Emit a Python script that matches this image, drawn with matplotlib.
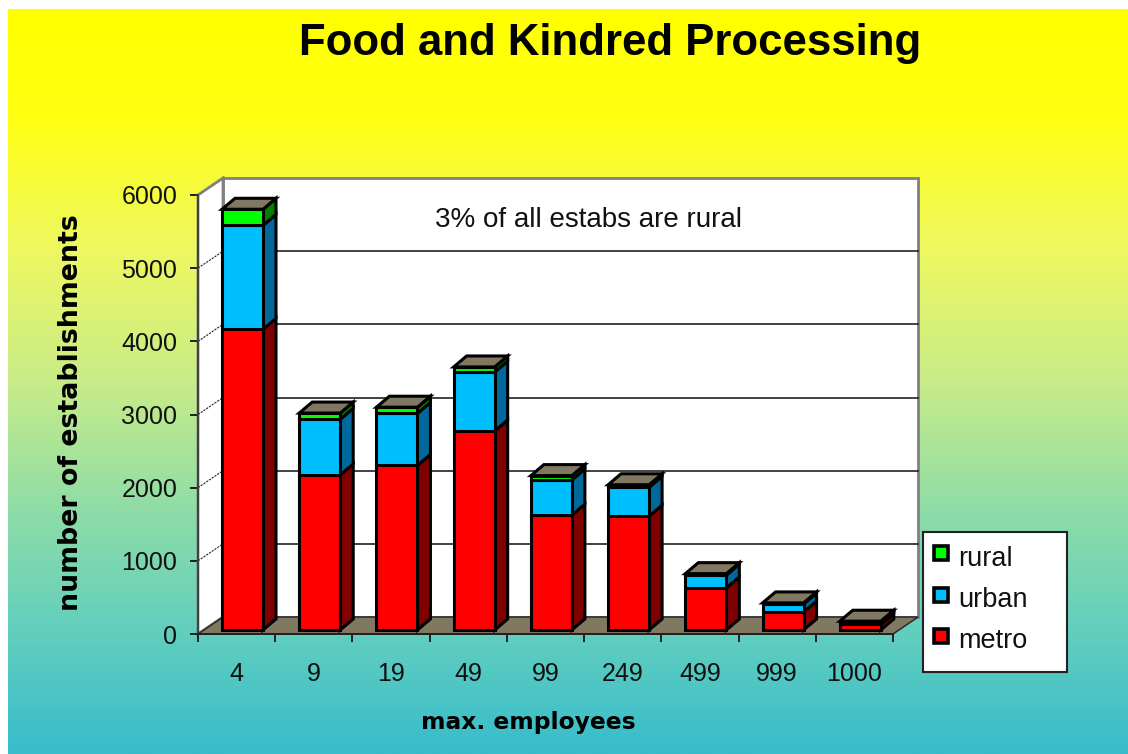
import numpy as np
import matplotlib
matplotlib.use('Agg')
import matplotlib.pyplot as plt
from matplotlib.patches import Rectangle

W, H = 1128, 754

# data
categories = ['4', '9', '19', '49', '99', '249', '499', '999', '1000']
metro = [4110, 2120, 2250, 2720, 1570, 1555, 575, 245, 75]
urban = [1420, 760, 710, 805, 480, 395, 175, 110, 30]
rural = [220, 85, 85, 70, 60, 35, 20, 15, 15]
yticks = [0, 1000, 2000, 3000, 4000, 5000, 6000]

series = [('metro', metro, '#ff0000', '#800000'),
          ('urban', urban, '#00bfff', '#00689a'),
          ('rural', rural, '#00ff00', '#008000')]

# background gradient stops (position from top, colour)
grad_pos = [0.0, 0.14, 0.32, 0.50, 0.68, 0.82, 1.0]
grad_col = ['#ffff00', '#ffff10', '#eef860', '#c8ec88', '#8cdca8', '#66d0bc', '#38bccc']

floor_col = '#807860'
wall_col = '#808080'

# depth of the plot box and of each bar, in axis units
back_dx = 25 / 77.2
back_dy = 17 / 0.07317
bar_left = 0.311
bar_w = 0.531
bar_dx = 0.168
bar_dy = 150
bar_lift = 55

fig = plt.figure(figsize=(W / 100, H / 100), dpi=100, facecolor='white')

# gradient background
bg = fig.add_axes([8 / W, 0, 1 - 8 / W, (H - 9) / H], zorder=0)
rgb = np.array([matplotlib.colors.to_rgb(c) for c in grad_col])
t = np.linspace(0, 1, 745)
img = np.stack([np.interp(t, grad_pos, rgb[:, i]) for i in range(3)], axis=1)[:, None, :]
bg.imshow(img, aspect='auto')
bg.axis('off')

ax = fig.add_axes([198 / W, 1 - 634 / H, 695 / W, 439 / H], zorder=1)
ax.set_xlim(0, 9)
ax.set_ylim(0, 6000)
ax.patch.set_alpha(0)
n = len(categories)

# back wall, left wall, floor
ax.fill([back_dx, n + back_dx, n + back_dx, back_dx],
        [back_dy, back_dy, 6000 + back_dy, 6000 + back_dy],
        facecolor='white', edgecolor=wall_col, lw=2, clip_on=False, zorder=1)
ax.fill([0, back_dx, back_dx, 0], [0, back_dy, 6000 + back_dy, 6000],
        facecolor='white', edgecolor=wall_col, lw=2, clip_on=False, zorder=1)
ax.fill([0, n, n + back_dx, back_dx], [0, 0, back_dy, back_dy],
        facecolor=floor_col, edgecolor='#303030', lw=1.2, clip_on=False, zorder=2)

# gridlines on the walls
for v in yticks[1:-1]:
    ax.plot([back_dx, n + back_dx], [v + back_dy, v + back_dy], color='#222222',
            lw=1.2, clip_on=False, zorder=2)
    ax.plot([0, back_dx], [v, v + back_dy], color='#222222', lw=0.8,
            ls=(0, (2, 1)), clip_on=False, zorder=2)

# stacked 3d bars, left to right
for i in range(n):
    x0 = i + bar_left
    x1 = x0 + bar_w
    base = bar_lift
    z = 3 + i
    for name, vals, col, side in series:
        v = vals[i]
        ax.bar(x0 + bar_w / 2, v, bar_w, bottom=base, color=col, edgecolor='black',
               lw=2.2, clip_on=False, zorder=z + 0.2)
        ax.fill([x1, x1 + bar_dx, x1 + bar_dx, x1],
                [base, base + bar_dy, base + v + bar_dy, base + v],
                facecolor=side, edgecolor='black', lw=2.2, clip_on=False, zorder=z + 0.1)
        base += v
    ax.fill([x0, x1, x1 + bar_dx, x0 + bar_dx],
            [base, base, base + bar_dy, base + bar_dy],
            facecolor=floor_col, edgecolor='black', lw=2.2, clip_on=False, zorder=z + 0.1)

# axes
for s in ['top', 'right']:
    ax.spines[s].set_visible(False)
ax.spines['left'].set_color('#404040')
ax.spines['left'].set_linewidth(1.4)
ax.spines['bottom'].set_color('#202020')
ax.spines['bottom'].set_linewidth(1.4)
ax.spines['left'].set_zorder(20)
ax.spines['bottom'].set_zorder(20)

ax.set_yticks(yticks)
ax.set_yticklabels([str(v) for v in yticks], fontsize=18, family='Liberation Sans', color='#111111')
ax.tick_params(axis='y', length=6, width=1.4, color='#202020', pad=9)
ax.set_xticks(np.arange(n) + 0.5)
ax.set_xticklabels(categories, fontsize=18, family='Liberation Sans', color='#111111')
ax.tick_params(axis='x', which='major', length=0, pad=20)
ax.set_xticks(np.arange(n + 1), minor=True)
ax.tick_params(axis='x', which='minor', length=6, width=1.4, color='#202020')

# note inside the chart
ax.text(0.5625, 0.943, '3% of all estabs are rural', transform=ax.transAxes, fontsize=20,
        family='Liberation Sans', ha='center', va='center', color='#111111', zorder=30)

fig.text(610 / W, 1 - 43 / H, 'Food and Kindred Processing', fontsize=31.5, fontweight='bold',
         family='Liberation Sans', ha='center', va='center', color='black')
fig.text(71 / W, 1 - 413 / H, 'number of establishments', fontsize=19.3, fontweight='bold',
         family='DejaVu Sans', rotation=90, ha='center', va='center', color='black')
fig.text(528 / W, 1 - 722 / H, 'max. employees', fontsize=16.8, fontweight='bold',
         family='DejaVu Sans', ha='center', va='center', color='black')

# legend box, top series first
fig.add_artist(Rectangle((923 / W, 1 - 672 / H), 144 / W, 140 / H, transform=fig.transFigure,
                         facecolor='white', edgecolor='#222222', lw=1.5, zorder=5))
leg_swatch_y = [553, 595, 636]
leg_text_y = [566, 607, 648]
for (name, vals, col, side), sy, ty in zip(reversed(series), leg_swatch_y, leg_text_y):
    fig.add_artist(Rectangle((933.5 / W, 1 - (sy + 7) / H), 14 / W, 14 / H, transform=fig.transFigure,
                             facecolor=col, edgecolor='black', lw=2.6, zorder=6))
    fig.text(958 / W, 1 - ty / H, name, fontsize=19.5, family='Liberation Sans', ha='left',
             va='baseline', color='#111111', zorder=6)

fig.savefig('out.png', dpi=100)
